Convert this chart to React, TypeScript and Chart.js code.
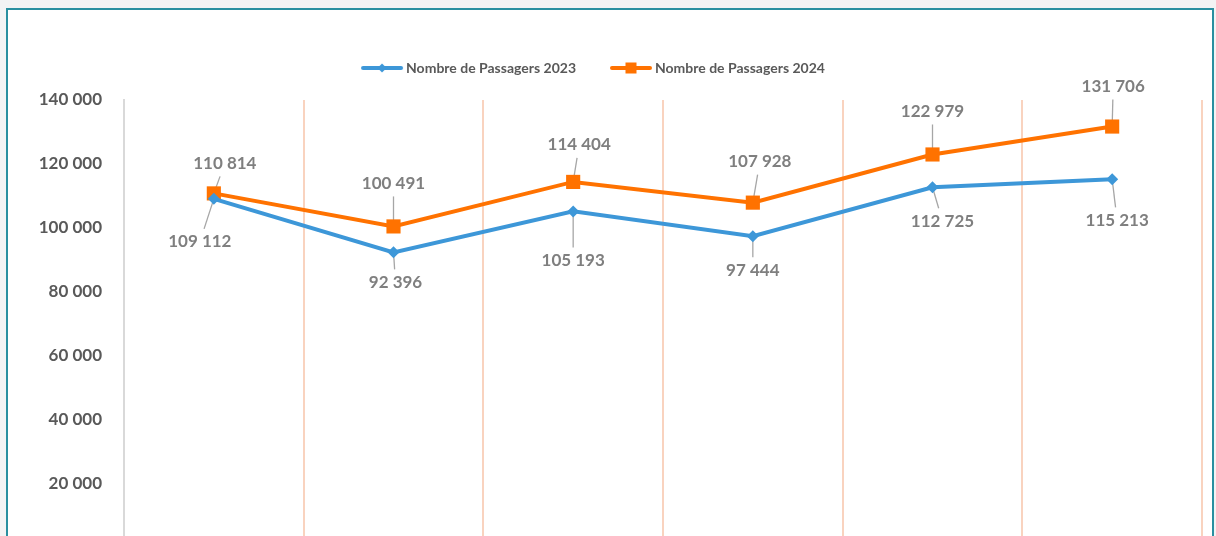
import React, { useEffect, useRef } from "react";
import { Chart, registerables } from "chart.js";

Chart.register(...registerables);

const categories = ["Janvier", "Février", "Mars", "Avril", "Mai", "Juin"];
const series2023 = [109112, 92396, 105193, 97444, 112725, 115213];
const series2024 = [110814, 100491, 114404, 107928, 122979, 131706];
const seriesNames = ["Nombre de Passagers 2023", "Nombre de Passagers 2024"];

// label placement (offset of label center from point, in px)
const labelOffsets2023: [number, number][] = [[-14, 43], [2, 30], [0, 49], [0, 34], [10, 34], [5, 41]];
const labelOffsets2024: [number, number][] = [[11, -30], [0, -43], [6, -37], [7, -41], [0, -43], [1, -40]];

const BLUE = "#3d97d8";
const ORANGE = "#ff7200";
const FONT = "Lato, 'Open Sans', sans-serif";

const fmt = (v: number) => {
  const s = Math.round(v).toString();
  return s.replace(/\B(?=(\d{3})+(?!\d))/g, " ");
};

function legendImage(color: string, kind: "diamond" | "square") {
  const c = document.createElement("canvas");
  c.width = 72;
  c.height = 14;
  const g = c.getContext("2d")!;
  g.strokeStyle = color;
  g.lineWidth = 4;
  g.lineCap = "round";
  g.beginPath();
  g.moveTo(30, 7);
  g.lineTo(68, 7);
  g.stroke();
  g.fillStyle = color;
  const mx = 49;
  if (kind === "diamond") {
    g.beginPath();
    g.moveTo(mx, 2.5);
    g.lineTo(mx + 4.5, 7);
    g.lineTo(mx, 11.5);
    g.lineTo(mx - 4.5, 7);
    g.closePath();
    g.fill();
  } else {
    g.fillRect(mx - 5.5, 1.5, 11, 11);
  }
  return c;
}

const layoutTweak = {
  id: "layoutTweak",
  beforeInit(chart: any) {
    const legend = chart.legend;
    if (legend) {
      const orig = legend.fit;
      legend.fit = function () {
        orig.call(this);
        this.height += 15;
      };
    }
  },
  afterLayout(chart: any) {
    const legend = chart.legend;
    if (legend) {
      legend.left -= 19;
      legend.right -= 19;
    }
  },
};

const labelPlugin = {
  id: "pointValueLabels",
  beforeDatasetsDraw(chart: any) {
    const ctx = chart.ctx;
    ctx.save();
    ctx.font = `bold 17px ${FONT}`;
    const offsets = [labelOffsets2023, labelOffsets2024];
    chart.data.datasets.forEach((ds: any, di: number) => {
      const meta = chart.getDatasetMeta(di);
      meta.data.forEach((pt: any, i: number) => {
        const text = fmt(ds.data[i]);
        const [dx, dy] = offsets[di][i];
        const lx = pt.x + dx;
        const ly = pt.y + dy;
        const w = ctx.measureText(text).width;
        const hw = w / 2 + 2;
        const hh = 13;
        const vx = pt.x - lx;
        const vy = pt.y - ly;
        const tx = vx !== 0 ? hw / Math.abs(vx) : Infinity;
        const ty = vy !== 0 ? hh / Math.abs(vy) : Infinity;
        const t = Math.min(tx, ty);
        if (t < 1) {
          ctx.strokeStyle = "#a6a6a6";
          ctx.lineWidth = 1.3;
          ctx.beginPath();
          ctx.moveTo(pt.x, pt.y);
          ctx.lineTo(lx + vx * t, ly + vy * t);
          ctx.stroke();
        }
      });
    });
    ctx.restore();
  },
  afterDatasetsDraw(chart: any) {
    const ctx = chart.ctx;
    ctx.save();
    ctx.font = `bold 17px ${FONT}`;
    ctx.fillStyle = "#7f7f7f";
    ctx.textAlign = "center";
    ctx.textBaseline = "middle";
    const offsets = [labelOffsets2023, labelOffsets2024];
    chart.data.datasets.forEach((ds: any, di: number) => {
      const meta = chart.getDatasetMeta(di);
      meta.data.forEach((pt: any, i: number) => {
        const [dx, dy] = offsets[di][i];
        ctx.fillText(fmt(ds.data[i]), pt.x + dx, pt.y + dy);
      });
    });
    ctx.restore();
  },
};

export default function App() {
  const ref = useRef<HTMLCanvasElement>(null);

  useEffect(() => {
    document.body.style.margin = "0";
    document.body.style.background = "#f3f3f4";
    const legendImgs = [legendImage(BLUE, "diamond"), legendImage(ORANGE, "square")];
    const chart = new Chart(ref.current!, {
      type: "line",
      data: {
        labels: categories,
        datasets: [
          {
            label: seriesNames[0],
            data: series2023,
            borderColor: BLUE,
            backgroundColor: BLUE,
            borderWidth: 4,
            pointStyle: "rectRot",
            pointRadius: 6,
            pointBorderWidth: 0,
            tension: 0,
          },
          {
            label: seriesNames[1],
            data: series2024,
            borderColor: ORANGE,
            backgroundColor: ORANGE,
            borderWidth: 4,
            pointStyle: "rect",
            pointRadius: 10,
            pointBorderWidth: 0,
            tension: 0,
          },
        ],
      },
      options: {
        responsive: false,
        animation: false,
        layout: { padding: { left: 0, right: 14, top: 49, bottom: 52 } },
        plugins: {
          tooltip: { enabled: false },
          legend: {
            position: "top",
            labels: {
              usePointStyle: true,
              pointStyleWidth: 60,
              padding: 12,
              color: "#595959",
              font: { family: FONT, size: 14, weight: "bold" },
              generateLabels: (ch: any) =>
                ch.data.datasets.map((ds: any, i: number) => ({
                  text: ds.label,
                  pointStyle: legendImgs[i],
                  fillStyle: ds.borderColor,
                  strokeStyle: ds.borderColor,
                  lineWidth: 0,
                  hidden: false,
                  datasetIndex: i,
                  fontColor: "#595959",
                })),
            },
          },
        },
        scales: {
          x: {
            offset: true,
            grid: { display: true, offset: true, color: "#f9d3bf", lineWidth: 2, drawTicks: false },
            border: { display: false },
            ticks: { display: false },
            afterFit: (s: any) => {
              s.height = 0;
            },
          },
          y: {
            min: 0,
            max: 140000,
            grid: { display: false, drawTicks: false },
            border: { display: true, color: "#d9d9d9", width: 2 },
            ticks: {
              stepSize: 20000,
              padding: 22,
              color: "#595959",
              font: { family: FONT, size: 17, weight: "bold" },
              callback: (v: any) => fmt(Number(v)),
            },
            afterFit: (s: any) => {
              s.width = 124;
            },
          },
        },
      },
      plugins: [layoutTweak, labelPlugin],
    });
    return () => chart.destroy();
  }, []);

  return (
    <div style={{ position: "relative", width: 1216, height: 536, overflow: "hidden", background: "#f3f3f4" }}>
      <div
        style={{
          position: "absolute",
          left: 6,
          top: 8,
          width: 1204,
          height: 620,
          border: "2px solid #2a8fa0",
          background: "#ffffff",
        }}
      />
      <canvas ref={ref} width={1216} height={600} style={{ position: "absolute", left: 0, top: 0 }} />
    </div>
  );
}
